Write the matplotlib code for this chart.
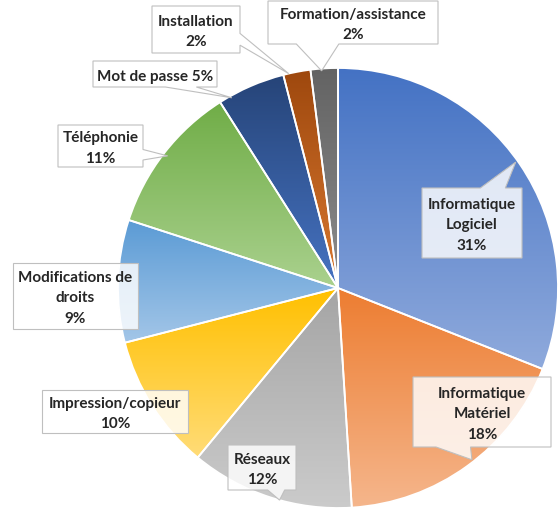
import numpy as np
import matplotlib
matplotlib.use('Agg')
import matplotlib.pyplot as plt
from matplotlib.patches import Polygon
from matplotlib.colors import to_rgb

plt.rcParams['font.family'] = ['Lato', 'DejaVu Sans']

# --- data ---
categories = ["Informatique\nLogiciel", "Informatique\nMatériel", "Réseaux",
              "Impression/copieur", "Modifications de\ndroits", "Téléphonie",
              "Mot de passe", "Installation", "Formation/assistance"]
shares = [31, 18, 12, 10, 9, 11, 5, 2, 2]
label_sep = ["\n", "\n", "\n", "\n", "\n", "\n", " ", "\n", "\n"]

# gradient colours per slice (top -> bottom of each wedge)
top_colors = ['#4472C4', '#ED7D31', '#A5A5A5', '#FFC000', '#5B9BD5',
              '#70AD47', '#264478', '#9E480E', '#636363']
bot_colors = ['#8FAADC', '#F5B68C', '#CBCBCB', '#FFDC78', '#A3C6E8',
              '#AAD18E', '#4673C2', '#D9782F', '#8C8C8C']

# --- layout in image pixels (y downwards) ---
W, H = 560, 508
cx, cy, R = 338, 288, 220
label_boxes = [(422, 188, 522, 258), (413, 377, 551, 447), (228, 445, 296, 490),
               (42, 390, 188, 433), (13, 263, 138, 329), (58, 125, 143, 167),
               (93, 61, 217, 87), (152, 6, 240, 53), (268, 1, 438, 44)]
# where the callout tail points: (position inside slice, radius fraction)
tail_target = [(0.49, 0.99), (0.47, 0.99), (0.44, 1.0), None, None,
               (0.5, 0.98), (0.18, 0.99), (0.2, 1.0), (0.4, 0.99)]
line_pitch = 20.5


def callout(box, tip):
    x0, y0, x1, y1 = box
    w, h = x1 - x0, y1 - y0
    bx, by = (x0 + x1) / 2, (y0 + y1) / 2
    if tip is None:
        return [(x0, y0), (x1, y0), (x1, y1), (x0, y1)]
    tx, ty = tip
    dx, dy = (tx - bx) / w, (ty - by) / h
    if abs(dx) > abs(dy):
        f = (2 / 12, 5 / 12) if ty < by else (7 / 12, 10 / 12)
        b0, b1 = y0 + f[0] * h, y0 + f[1] * h
        if dx > 0:
            return [(x0, y0), (x1, y0), (x1, b0), tip, (x1, b1), (x1, y1), (x0, y1)]
        return [(x0, y0), (x1, y0), (x1, y1), (x0, y1), (x0, b1), tip, (x0, b0)]
    f = (2 / 12, 5 / 12) if tx < bx else (7 / 12, 10 / 12)
    b0, b1 = x0 + f[0] * w, x0 + f[1] * w
    if dy < 0:
        return [(x0, y0), (b0, y0), tip, (b1, y0), (x1, y0), (x1, y1), (x0, y1)]
    return [(x0, y0), (x1, y0), (x1, y1), (b1, y1), tip, (b0, y1), (x0, y1)]


fig = plt.figure(figsize=(W / 100, H / 100), dpi=100)
ax = fig.add_axes([0, 0, 1, 1])

# y axis inverted -> data counter-clockwise is visually clockwise
wedges, _ = ax.pie(shares, center=(cx, cy), radius=R, startangle=-90,
                   counterclock=True,
                   wedgeprops=dict(facecolor='none', edgecolor='white',
                                   linewidth=1.3, zorder=3))

for wd, ct, cb in zip(wedges, top_colors, bot_colors):
    ext = wd.get_path().get_extents()
    grad = np.linspace(0, 1, 256)[:, None, None]
    img = (1 - grad) * np.array(to_rgb(ct)) + grad * np.array(to_rgb(cb))
    im = ax.imshow(img, extent=(ext.x0, ext.x1, ext.y1, ext.y0),
                   origin='upper', aspect='auto', interpolation='bilinear',
                   zorder=2)
    im.set_clip_path(wd)

cum = np.concatenate([[0], np.cumsum(shares)]) / sum(shares)
for i, (name, val) in enumerate(zip(categories, shares)):
    tip = None
    if tail_target[i] is not None:
        pos, rf = tail_target[i]
        frac = cum[i] + pos * val / sum(shares)
        th = np.deg2rad(90 - 360 * frac)
        tip = (cx + R * rf * np.cos(th), cy - R * rf * np.sin(th))
    box = label_boxes[i]
    ax.add_patch(Polygon(callout(box, tip), closed=True, facecolor=(1, 1, 1, 0.82),
                         edgecolor='#BFBFBF', linewidth=0.8, zorder=4))
    lines = f"{name}{label_sep[i]}{val}%".split("\n")
    bx, by = (box[0] + box[2]) / 2, (box[1] + box[3]) / 2
    for k, line in enumerate(lines):
        y = by + 1 + (k - (len(lines) - 1) / 2) * line_pitch
        ax.text(bx, y + 5.5, line, ha='center', va='baseline',
                fontsize=11, fontweight='bold', color='#262626', zorder=5)

ax.set_xlim(0, W)
ax.set_ylim(H, 0)
ax.set_aspect('auto')
ax.axis('off')
fig.savefig('out.png', dpi=100, facecolor='white')
